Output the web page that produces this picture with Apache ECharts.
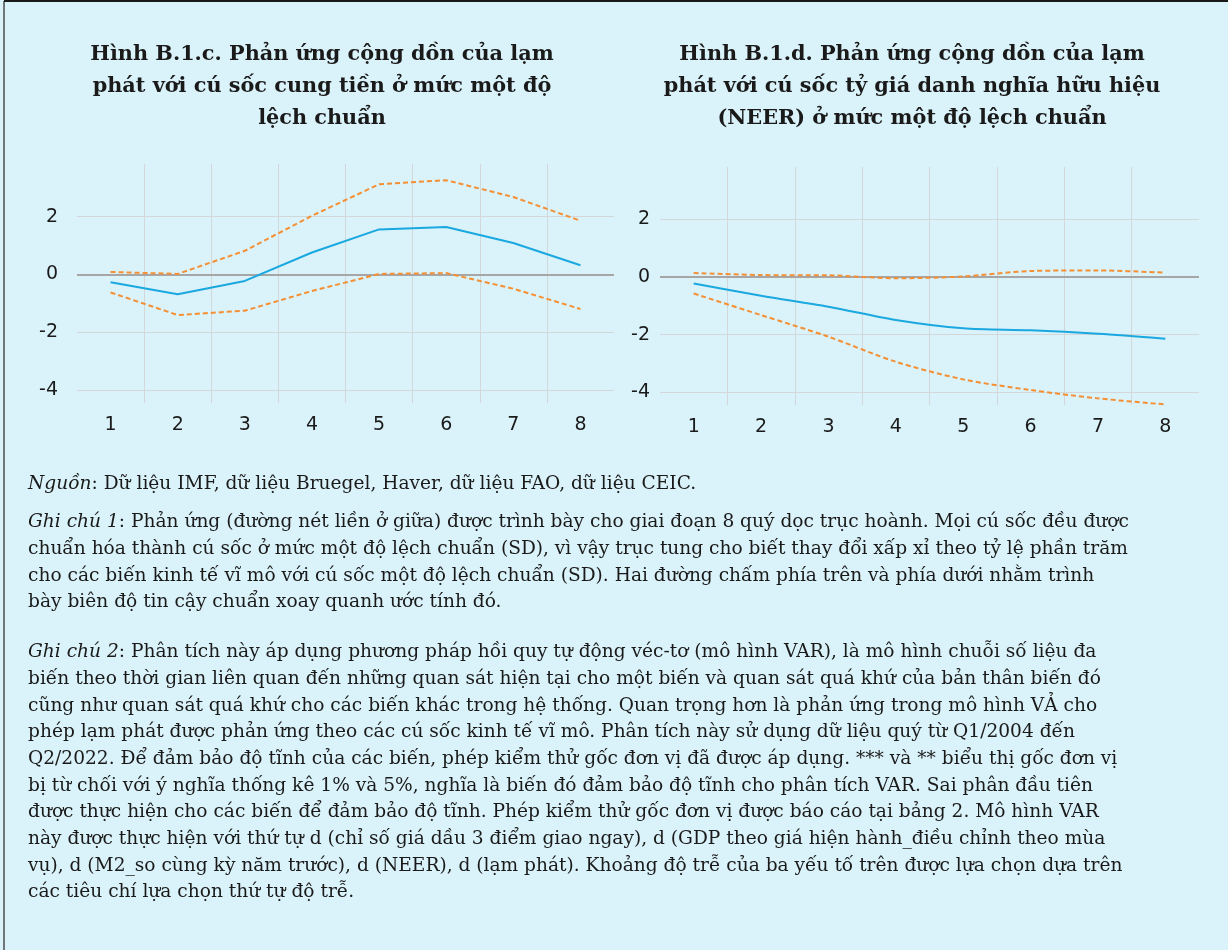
<!DOCTYPE html>
<html>
<head>
<meta charset="utf-8">
<script src="https://cdn.jsdelivr.net/npm/echarts@6/dist/echarts.min.js"></script>
<style>
html,body{margin:0;padding:0;background:#DAF2F9;}
#c{width:1228px;height:950px;}
</style>
</head>
<body>
<div id="c"></div>
<script>
// ---- data ----
const categories = ['1','2','3','4','5','6','7','8'];
// Hình B.1.c – money supply shock
const moneyResponse = [-0.27,-0.68,-0.22,0.76,1.56,1.64,1.09,0.32];
const moneyUpper    = [0.09,0.02,0.82,2.03,3.12,3.26,2.68,1.86];
const moneyLower    = [-0.62,-1.40,-1.25,-0.57,0.02,0.05,-0.49,-1.19];
// Hình B.1.d – NEER shock
const neerResponse  = [-0.22,-0.65,-1.03,-1.49,-1.78,-1.85,-1.97,-2.14];
const neerUpper     = [0.14,0.07,0.06,-0.04,0.02,0.21,0.23,0.15];
const neerLower     = [-0.57,-1.32,-2.07,-2.94,-3.55,-3.92,-4.21,-4.42];

const titleLeft  = 'Hình B.1.c. Phản ứng cộng dồn của lạm\nphát với cú sốc cung tiền ở mức một độ\nlệch chuẩn';
const titleRight = 'Hình B.1.d. Phản ứng cộng dồn của lạm\nphát với cú sốc tỷ giá danh nghĩa hữu hiệu\n(NEER) ở mức một độ lệch chuẩn';

const noteSource = '{i|Nguồn}: Dữ liệu IMF, dữ liệu Bruegel, Haver, dữ liệu FAO, dữ liệu CEIC.';
const note1Lines = [
  '{i|Ghi chú 1}: Phản ứng (đường nét liền ở giữa) được trình bày cho giai đoạn 8 quý dọc trục hoành. Mọi cú sốc đều được',
  'chuẩn hóa thành cú sốc ở mức một độ lệch chuẩn (SD), vì vậy trục tung cho biết thay đổi xấp xỉ theo tỷ lệ phần trăm',
  'cho các biến kinh tế vĩ mô với cú sốc một độ lệch chuẩn (SD). Hai đường chấm phía trên và phía dưới nhằm trình',
  'bày biên độ tin cậy chuẩn xoay quanh ước tính đó.'
];
const note2Lines = [
  '{i|Ghi chú 2}: Phân tích này áp dụng phương pháp hồi quy tự động véc-tơ (mô hình VAR), là mô hình chuỗi số liệu đa',
  'biến theo thời gian liên quan đến những quan sát hiện tại cho một biến và quan sát quá khứ của bản thân biến đó',
  'cũng như quan sát quá khứ cho các biến khác trong hệ thống. Quan trọng hơn là phản ứng trong mô hình VẢ cho',
  'phép lạm phát được phản ứng theo các cú sốc kinh tế vĩ mô. Phân tích này sử dụng dữ liệu quý từ Q1/2004 đến',
  'Q2/2022. Để đảm bảo độ tĩnh của các biến, phép kiểm thử gốc đơn vị đã được áp dụng. *** và ** biểu thị gốc đơn vị',
  'bị từ chối với ý nghĩa thống kê 1% và 5%, nghĩa là biến đó đảm bảo độ tĩnh cho phân tích VAR. Sai phân đầu tiên',
  'được thực hiện cho các biến để đảm bảo độ tĩnh. Phép kiểm thử gốc đơn vị được báo cáo tại bảng 2. Mô hình VAR',
  'này được thực hiện với thứ tự d (chỉ số giá dầu 3 điểm giao ngay), d (GDP theo giá hiện hành_điều chỉnh theo mùa',
  'vụ), d (M2_so cùng kỳ năm trước), d (NEER), d (lạm phát). Khoảng độ trễ của ba yếu tố trên được lựa chọn dựa trên',
  'các tiêu chí lựa chọn thứ tự độ trễ.'
];

// ---- styles ----
const BLUE = '#1AA8E0', ORANGE = '#F58F33', GRID = '#D3D7D9', ZERO = '#A6A6A6', TXT = '#1A1A1A';
const AX_FONT = 'DejaVu Sans';
const SERIF = 'DejaVu Serif';
const BODY_SIZE = 18.6, BODY_LH = 26.7;

const chart = echarts.init(document.getElementById('c'), null, {renderer:'canvas'});

function xAxisCfg(gi){
  return {
    type:'category', gridIndex:gi, data:categories, boundaryGap:true,
    axisLine:{show:false}, axisTick:{show:false},
    axisLabel:{color:TXT, fontFamily:AX_FONT, fontSize:19, margin:13},
    splitLine:{show:true, showMinLine:false, showMaxLine:false, lineStyle:{color:GRID, width:1}}
  };
}
function yAxisCfg(gi, margin){
  return {
    type:'value', gridIndex:gi, min:-4.44, max:3.82, splitNumber:4,
    axisLine:{show:false}, axisTick:{show:false},
    axisLabel:{color:TXT, fontFamily:AX_FONT, fontSize:19, margin:margin, showMinLabel:false, showMaxLabel:false},
    splitLine:{show:true, showMinLine:false, showMaxLine:false, lineStyle:{color:GRID, width:1}}
  };
}
function band(gi, data, smooth){
  return {type:'line', xAxisIndex:gi, yAxisIndex:gi, data:data, symbol:'none', smooth:smooth,
    lineStyle:{color:ORANGE, width:2, type:[5,3]}, z:3, silent:true};
}
function resp(gi, data, smooth){
  return {type:'line', xAxisIndex:gi, yAxisIndex:gi, data:data, symbol:'none', smooth:smooth,
    lineStyle:{color:BLUE, width:2, type:'solid'}, z:4, silent:true,
    markLine:{silent:true, symbol:'none', label:{show:false}, z:2,
      lineStyle:{color:ZERO, width:2, type:'solid'}, data:[{yAxis:0}]}};
}

function noteText(lines, top){
  return {
    type:'text', left:28, top:top, silent:true,
    style:{
      text: lines.join('\n'), fill:TXT, fontFamily:SERIF, fontSize:BODY_SIZE, lineHeight:BODY_LH,
      rich:{ i:{fontStyle:'italic', fontFamily:SERIF, fontSize:BODY_SIZE, lineHeight:BODY_LH, fill:TXT} }
    }
  };
}

chart.setOption({
  backgroundColor:'#DAF2F9',
  animation:false,
  title:[
    {text:titleLeft, left:322, top:39, textAlign:'center', padding:0,
      textStyle:{fontFamily:SERIF, fontWeight:'bold', fontSize:20.8, lineHeight:32, color:TXT}},
    {text:titleRight, left:912, top:39, textAlign:'center', padding:0,
      textStyle:{fontFamily:SERIF, fontWeight:'bold', fontSize:20.8, lineHeight:32, color:TXT}}
  ],
  grid:[
    {left:77, right:1228-614, top:164, bottom:950-403},
    {left:660, right:1228-1199, top:167, bottom:950-405}
  ],
  xAxis:[xAxisCfg(0), xAxisCfg(1)],
  yAxis:[yAxisCfg(0, 19), yAxisCfg(1, 10)],
  series:[
    band(0, moneyUpper, false), resp(0, moneyResponse, false), band(0, moneyLower, false),
    band(1, neerUpper, 0.3), resp(1, neerResponse, 0.3), band(1, neerLower, 0.3)
  ],
  graphic:[
    {type:'line', silent:true, shape:{x1:4, y1:1, x2:4, y2:950}, style:{stroke:'#4D4D4D', lineWidth:1.5}},
    {type:'line', silent:true, shape:{x1:4, y1:1, x2:1228, y2:1}, style:{stroke:'#1A1A1A', lineWidth:2}},
    noteText([noteSource], 471),
    noteText(note1Lines, 509),
    noteText(note2Lines, 639)
  ]
});
</script>
</body>
</html>
